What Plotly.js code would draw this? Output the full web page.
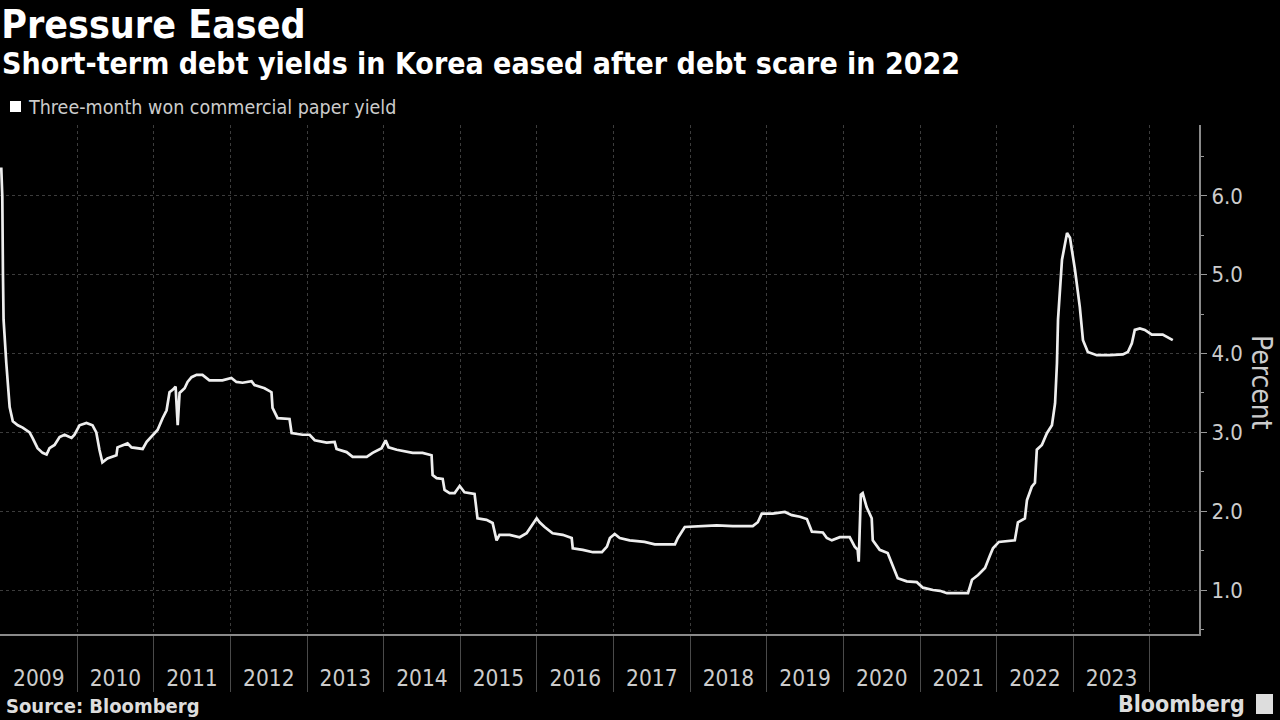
<!DOCTYPE html>
<html>
<head>
<meta charset="utf-8">
<script src="https://cdn.plot.ly/plotly-3.0.1.min.js"></script>
<style>html,body{margin:0;padding:0;background:#000;}#chart{width:1280px;height:720px;}</style>
</head>
<body>
<div id="chart"></div>
<script>
// ---- Data ----
const dates = [
"2009-01-04","2009-01-09","2009-01-12","2009-01-15","2009-01-28","2009-02-13","2009-02-28","2009-03-24","2009-04-16","2009-05-19",
"2009-06-02","2009-06-26","2009-07-20","2009-08-08","2009-08-22","2009-09-15","2009-10-09","2009-11-02","2009-12-05","2009-12-19",
"2010-01-12","2010-02-14","2010-03-15","2010-04-02","2010-04-17","2010-05-01","2010-05-25","2010-06-13","2010-07-07","2010-07-12",
"2010-08-05","2010-08-29","2010-09-17","2010-10-11","2010-11-09","2010-11-28","2010-12-27","2011-01-19","2011-02-12","2011-03-03",
"2011-03-17","2011-04-01","2011-04-15","2011-04-25","2011-05-04","2011-05-28","2011-06-11","2011-06-30","2011-07-24","2011-08-21",
"2011-09-23","2011-11-24","2012-01-06","2012-01-30","2012-02-28","2012-04-11","2012-04-25","2012-06-12","2012-07-15","2012-07-20",
"2012-08-13","2012-10-09","2012-10-19","2012-12-10","2013-01-13","2013-02-06","2013-04-04","2013-05-12","2013-05-21","2013-07-08",
"2013-08-06","2013-10-12","2013-11-09","2013-12-22","2014-01-10","2014-01-24","2014-03-04","2014-05-05","2014-05-19","2014-07-05",
"2014-08-17","2014-08-22","2014-09-10","2014-10-09","2014-10-18","2014-11-11","2014-12-05","2014-12-29","2015-01-21","2015-03-10",
"2015-03-24","2015-05-06","2015-06-04","2015-06-23","2015-07-07","2015-08-24","2015-10-11","2015-11-13","2015-12-07","2015-12-31",
"2016-01-14","2016-02-07","2016-03-16","2016-05-03","2016-06-15","2016-06-20","2016-08-07","2016-09-24","2016-11-06","2016-11-30",
"2016-12-14","2017-01-06","2017-01-30","2017-03-18","2017-05-28","2017-07-16","2017-10-20","2017-11-03","2017-12-06","2018-02-01",
"2018-05-07","2018-07-23","2018-10-26","2018-11-19","2018-12-08","2019-01-29","2019-03-28","2019-04-30","2019-06-08","2019-07-11",
"2019-08-04","2019-09-25","2019-10-14","2019-11-07","2019-12-15","2020-01-31","2020-02-24","2020-03-09","2020-03-14","2020-03-24",
"2020-04-02","2020-04-21","2020-05-15","2020-05-20","2020-06-22","2020-07-30","2020-08-23","2020-09-16","2020-10-29","2020-12-16",
"2021-01-14","2021-03-03","2021-04-05","2021-05-09","2021-08-17","2021-09-05","2021-10-04","2021-11-06","2021-11-30","2021-12-14",
"2022-01-11","2022-03-04","2022-03-28","2022-04-12","2022-05-15","2022-05-25","2022-06-17","2022-07-02","2022-07-11","2022-08-04",
"2022-08-28","2022-09-21","2022-10-06","2022-10-15","2022-10-20","2022-11-08","2022-12-02","2022-12-16","2023-01-09","2023-02-01",
"2023-02-16","2023-03-11","2023-04-23","2023-06-24","2023-08-25","2023-09-18","2023-10-07","2023-10-21","2023-11-14","2023-12-08",
"2024-01-10","2024-03-02","2024-03-26","2024-04-19"
];
const yields = [
6.36,5.99,5.02,4.43,3.88,3.32,3.14,3.09,3.06,3.00,
2.93,2.80,2.74,2.72,2.80,2.84,2.94,2.97,2.93,2.97,
3.09,3.12,3.09,3.00,2.78,2.62,2.67,2.69,2.71,2.81,
2.84,2.86,2.81,2.80,2.79,2.88,2.97,3.03,3.18,3.28,
3.51,3.54,3.58,3.09,3.50,3.56,3.64,3.70,3.73,3.73,
3.66,3.66,3.69,3.64,3.63,3.65,3.60,3.56,3.51,3.31,
3.18,3.17,2.99,2.97,2.97,2.90,2.87,2.88,2.79,2.75,
2.69,2.69,2.74,2.80,2.90,2.81,2.78,2.75,2.74,2.74,
2.71,2.46,2.42,2.41,2.27,2.23,2.23,2.32,2.24,2.22,
1.91,1.89,1.85,1.63,1.70,1.70,1.67,1.72,1.82,1.91,
1.86,1.80,1.72,1.70,1.66,1.53,1.51,1.48,1.48,1.55,
1.66,1.71,1.66,1.63,1.61,1.58,1.58,1.66,1.80,1.81,
1.82,1.81,1.81,1.86,1.97,1.97,1.99,1.95,1.93,1.90,
1.74,1.73,1.66,1.63,1.67,1.67,1.55,1.51,1.36,2.21,
2.23,2.05,1.91,1.63,1.51,1.47,1.32,1.15,1.11,1.10,
1.03,1.00,0.99,0.96,0.96,1.13,1.19,1.28,1.44,1.53,
1.61,1.62,1.63,1.86,1.91,2.14,2.31,2.36,2.78,2.84,
2.99,3.09,3.37,3.88,4.43,5.19,5.53,5.47,5.06,4.59,
4.17,4.02,3.98,3.98,3.99,4.02,4.13,4.30,4.32,4.30,
4.24,4.24,4.21,4.17
];
const years = ["2009","2010","2011","2012","2013","2014","2015","2016","2017","2018","2019","2020","2021","2022","2023"];
const yTicks = [1, 2, 3, 4, 5, 6];
const seriesName = "Three-month won commercial paper yield";

// ---- Derived tick positions ----
const midYear = years.map(y => y + "-07-02");
const yearStarts = years.map(y => String(Number(y) + 1) + "-01-01");
const xRange = ["2008-12-29", "2024-08-22"];
const FONT = "DejaVu Sans Condensed, DejaVu Sans, sans-serif";

const trace = {
  x: dates, y: yields, type: "scatter", mode: "lines",
  line: {color: "#eeeeee", width: 2.7, shape: "linear"},
  name: seriesName, showlegend: false, hoverinfo: "skip"
};
// invisible helper so that xaxis2 (boundary ticks + grid) is drawn
const helper = {x: xRange, y: [null, null], xaxis: "x2", yaxis: "y", type: "scatter", mode: "lines", showlegend: false, hoverinfo: "skip"};

const layout = {
  width: 1280, height: 720,
  paper_bgcolor: "#000", plot_bgcolor: "#000",
  margin: {l: 0, r: 81, t: 125, b: 86},
  font: {family: FONT, color: "#cccccc"},
  title: {text: "Pressure Eased", x: 0.001, xref: "container", xanchor: "left",
          y: 0.966, yref: "container", yanchor: "middle",
          font: {family: FONT, size: 39, color: "#ffffff", weight: "bold"}},
  xaxis: {
    type: "date", range: xRange,
    tickmode: "array", tickvals: midYear, ticktext: years,
    ticks: "outside", ticklen: 24, tickcolor: "rgba(0,0,0,0)",
    showgrid: false, zeroline: false, showline: false,
    tickfont: {family: FONT, size: 22.5, color: "#cccccc"}
  },
  xaxis2: {
    type: "date", range: xRange, overlaying: "x", anchor: "y", side: "bottom",
    tickmode: "array", tickvals: yearStarts, showticklabels: false,
    ticks: "outside", ticklen: 56, tickcolor: "#4a4a4a", tickwidth: 1,
    showgrid: true, gridcolor: "#3c3c3c", griddash: "dot", gridwidth: 1,
    showline: true, linecolor: "#8a8a8a", linewidth: 2, zeroline: false
  },
  yaxis: {
    side: "right", range: [0.442, 6.90],
    tickmode: "array", tickvals: yTicks, tickformat: ".1f",
    ticks: "outside", ticklen: 6, tickcolor: "#999999", tickwidth: 1,
    minor: {dtick: 0.5, tick0: 0.5, ticks: "outside", ticklen: 3, tickcolor: "#999999", showgrid: false},
    showgrid: true, gridcolor: "#3c3c3c", griddash: "dot", gridwidth: 1,
    showline: true, linecolor: "#8a8a8a", linewidth: 2, zeroline: false,
    tickfont: {family: FONT, size: 22, color: "#cccccc"}
  },
  shapes: [
    {type: "rect", xref: "paper", yref: "paper",
     x0: 10/1199, x1: 21/1199, y0: (634-112)/509, y1: (634-101)/509,
     fillcolor: "#ffffff", line: {width: 0}},
    {type: "rect", xref: "paper", yref: "paper",
     x0: 1256/1199, x1: 1273/1199, y0: (634-714)/509, y1: (634-694)/509,
     fillcolor: "#dddddd", line: {width: 0}}
  ],
  annotations: [
    {text: "<b>Short-term debt yields in Korea eased after debt scare in 2022</b>",
     xref: "paper", yref: "paper", x: 0, y: (634-64)/509, xanchor: "left", yanchor: "middle",
     showarrow: false, font: {family: FONT, size: 30, color: "#ffffff"}},
    {text: seriesName, xref: "paper", yref: "paper", x: 26/1199, y: (634-107)/509,
     xanchor: "left", yanchor: "middle", showarrow: false,
     font: {family: FONT, size: 19.5, color: "#cccccc"}},
    {text: "Percent", xref: "paper", yref: "paper", x: 1262/1199, y: (634-382)/509,
     xanchor: "center", yanchor: "middle", textangle: 90, showarrow: false,
     font: {family: FONT, size: 28, color: "#cccccc"}},
    {text: "<b>Source: Bloomberg</b>", xref: "paper", yref: "paper", x: 4/1199, y: (634-706)/509,
     xanchor: "left", yanchor: "middle", showarrow: false,
     font: {family: FONT, size: 20, color: "#dddddd"}},
    {text: "<b>Bloomberg</b>", xref: "paper", yref: "paper", x: 1247/1199, y: (634-704)/509,
     xanchor: "right", yanchor: "middle", showarrow: false,
     font: {family: FONT, size: 23, color: "#dddddd"}}
  ]
};

Plotly.newPlot("chart", [trace, helper], layout, {staticPlot: true, displayModeBar: false});
</script>
</body>
</html>
